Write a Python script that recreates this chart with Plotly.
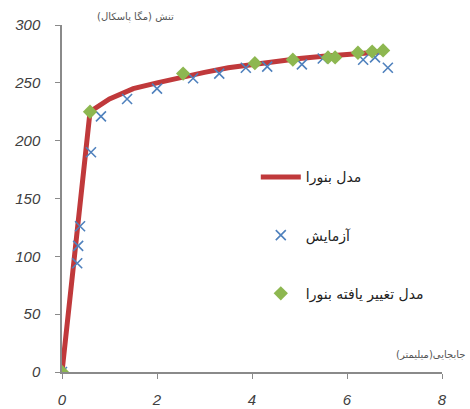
import plotly.graph_objects as go

# Bonora model curve
model_x = [0, 0.59, 1.0, 1.5, 2.0, 2.5, 3.0, 3.5, 4.0, 4.5, 5.0, 5.5, 6.0, 6.5, 6.8]
model_y = [0, 225, 236, 245, 250, 255, 259, 263, 266, 269, 271, 273, 275, 276, 277]

# Experiment
exp_x = [0, 0.32, 0.34, 0.38, 0.61, 0.82, 1.37, 2.0, 2.76, 3.31, 3.87, 4.32, 5.05, 5.49, 6.34, 6.59, 6.86]
exp_y = [0, 94, 109, 126, 190, 221, 236, 245, 254, 258, 263, 264, 266, 271, 270, 272, 263]

# Modified Bonora model
mod_x = [0, 0.59, 2.55, 4.06, 4.86, 5.6, 5.75, 6.23, 6.53, 6.76]
mod_y = [0, 225, 258, 267, 270, 272, 272, 276, 277, 278]

x_ticks = [0, 2, 4, 6, 8]
y_ticks = [0, 50, 100, 150, 200, 250, 300]

names = ["مدل بنورا", "آزمایش", "مدل تغییر یافته بنورا"]

fig = go.Figure()
fig.add_trace(go.Scatter(x=model_x, y=model_y, mode="lines", name=names[0],
                         line=dict(color="#C0393B", width=5), legendgroup="a"))
fig.add_trace(go.Scatter(x=exp_x, y=exp_y, mode="markers", name=names[1],
                         marker=dict(symbol="x-thin", size=10, line=dict(color="#4F81BD", width=1.6), color="#4F81BD"),
                         legendgroup="b"))
fig.add_trace(go.Scatter(x=mod_x, y=mod_y, mode="markers", name=names[2],
                         marker=dict(symbol="diamond", size=11, color="#8DB750"),
                         legendgroup="c"))

tickfont = dict(family="Liberation Sans", size=15, color="#404040")
fig.update_layout(
    width=470, height=409,
    margin=dict(l=62, r=28, t=25, b=37, autoexpand=False),
    plot_bgcolor="white", paper_bgcolor="white",
    showlegend=True,
    legend=dict(x=0.51, y=0.607, xanchor="left", yanchor="top",
                font=dict(family="DejaVu Sans", size=14, color="#222"),
                tracegroupgap=37, bgcolor="rgba(0,0,0,0)", itemwidth=40),
    xaxis=dict(range=[0, 8], tickvals=x_ticks, ticktext=[f"<i>{v}</i>" for v in x_ticks],
               showgrid=False, zeroline=False, automargin=False,
               showline=True, linecolor="#8a8a8a", linewidth=1.5,
               ticks="outside", ticklen=5, tickcolor="#8a8a8a",
               tickfont=tickfont, ticklabelstandoff=8),
    yaxis=dict(range=[0, 300], tickvals=y_ticks, ticktext=[f"<i>{v}</i>" for v in y_ticks],
               showgrid=False, zeroline=False, automargin=False,
               showline=True, linecolor="#8a8a8a", linewidth=1.5,
               ticks="outside", ticklen=5, tickcolor="#8a8a8a",
               tickfont=tickfont, ticklabelstandoff=12),
    annotations=[
        dict(text="تنش (مگا پاسکال)", xref="paper", yref="paper", x=0.087, y=1.022,
             xanchor="left", yanchor="middle", showarrow=False,
             font=dict(family="DejaVu Sans", size=10, color="#555")),
        dict(text="جابجایی(میلیمتر)", xref="paper", yref="paper", x=1.065, y=0.049,
             xanchor="right", yanchor="middle", showarrow=False,
             font=dict(family="DejaVu Sans", size=10, color="#555")),
    ],
)

fig.write_html("out.html")
